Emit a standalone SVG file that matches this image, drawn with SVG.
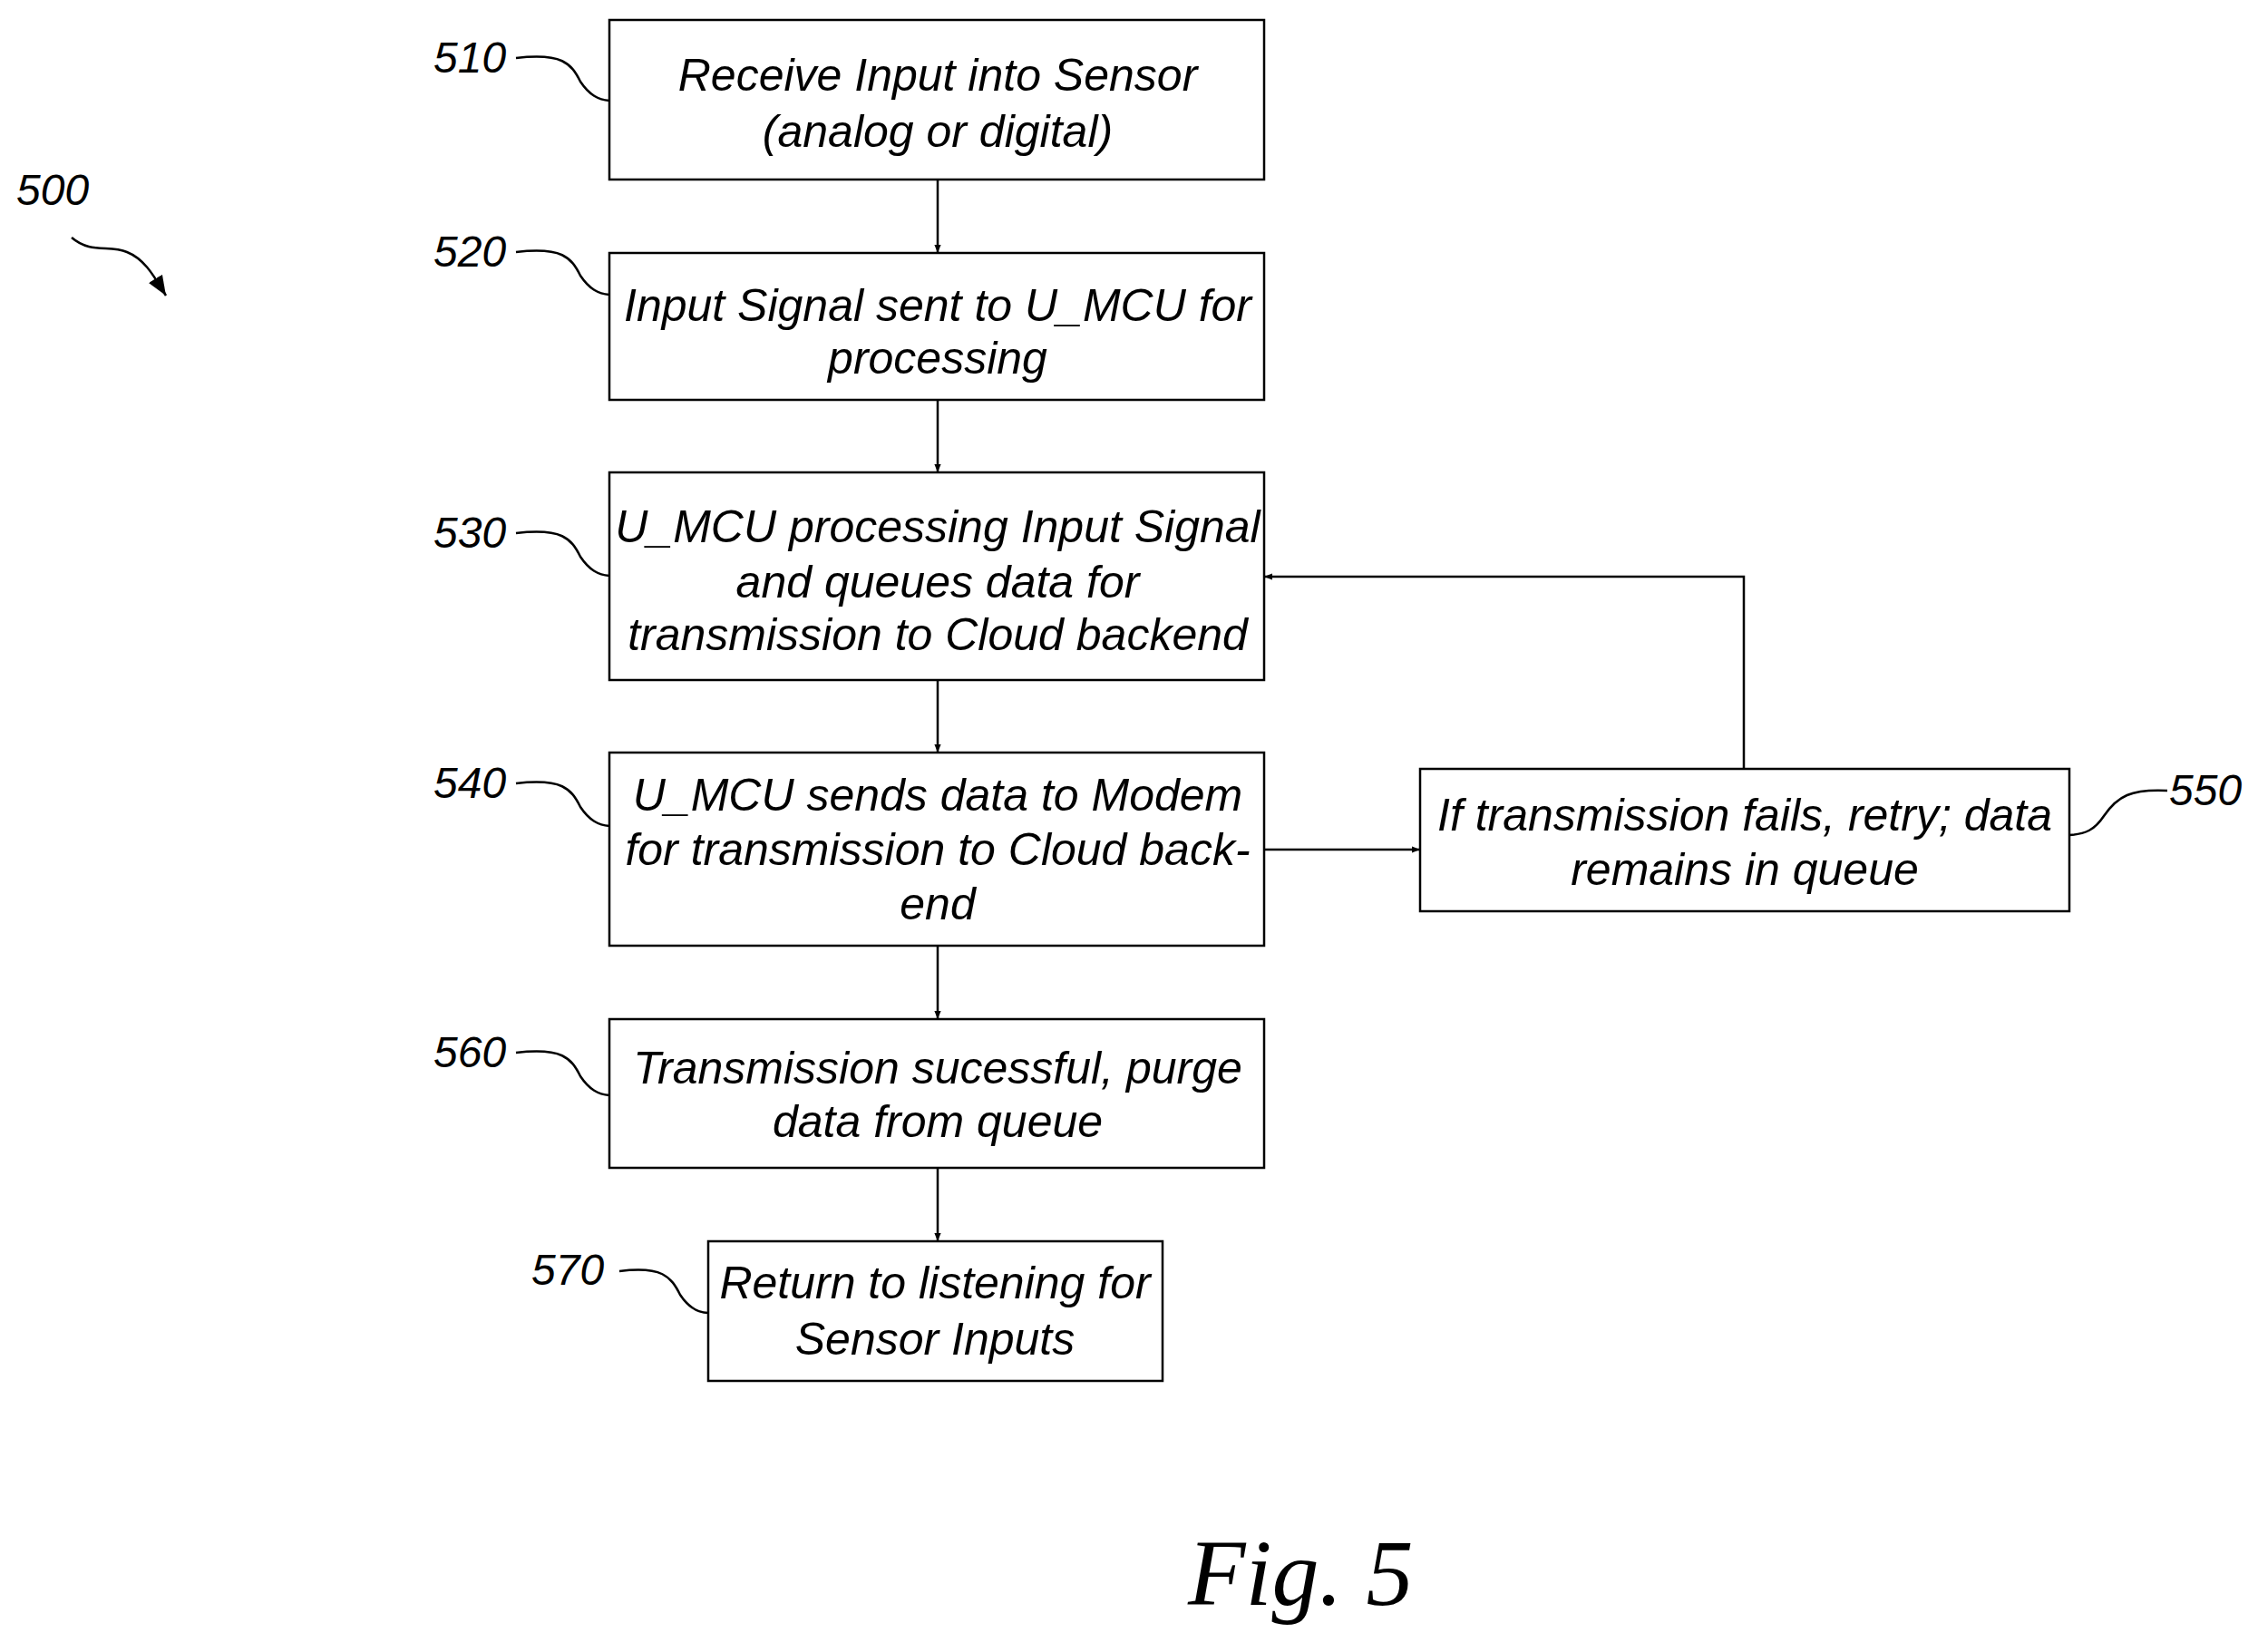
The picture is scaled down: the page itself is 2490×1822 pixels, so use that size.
<svg xmlns="http://www.w3.org/2000/svg" width="2490" height="1822" viewBox="0 0 2490 1822">
<style>
.b{fill:#fff;stroke:#000;stroke-width:2.5}
.t{font-family:"Liberation Sans Narrow","Liberation Sans",sans-serif;font-style:italic;font-size:50px;text-anchor:middle;fill:#000}
.l{font-family:"Liberation Sans Narrow","Liberation Sans",sans-serif;font-style:italic;font-size:48px;fill:#000}
.c{fill:none;stroke:#000;stroke-width:2.5}
</style>
<defs><marker id="a" viewBox="0 0 10 10" refX="10" refY="5" markerWidth="9" markerHeight="9" markerUnits="userSpaceOnUse" orient="auto"><path d="M0,1 L10,5 L0,9 Z" fill="#000"/></marker>
<marker id="ah" viewBox="0 0 10 10" refX="10" refY="5" markerWidth="22" markerHeight="22" markerUnits="userSpaceOnUse" orient="auto"><path d="M0,1 L10,5 L0,9 Z" fill="#000"/></marker></defs>
<rect width="2490" height="1822" fill="#fff"/>
<g id="n510"><rect class="b" x="672" y="22" width="722" height="176"/><text class="t" x="1034" y="100">Receive Input into Sensor</text><text class="t" x="1034" y="162">(analog or digital)</text></g>
<g id="n520"><rect class="b" x="672" y="279" width="722" height="162"/><text class="t" x="1034" y="354">Input Signal sent to U_MCU for</text><text class="t" x="1034" y="412">processing</text></g>
<g id="n530"><rect class="b" x="672" y="521" width="722" height="229"/><text class="t" x="1034" y="598">U_MCU processing Input Signal</text><text class="t" x="1034" y="659">and queues data for</text><text class="t" x="1034" y="717">transmission to Cloud backend</text></g>
<g id="n540"><rect class="b" x="672" y="830" width="722" height="213"/><text class="t" x="1034" y="894">U_MCU sends data to Modem</text><text class="t" x="1034" y="954">for transmission to Cloud back-</text><text class="t" x="1034" y="1014">end</text></g>
<g id="n550"><rect class="b" x="1566" y="848" width="716" height="157"/><text class="t" x="1924" y="916">If transmission fails, retry; data</text><text class="t" x="1924" y="976">remains in queue</text></g>
<g id="n560"><rect class="b" x="672" y="1124" width="722" height="164"/><text class="t" x="1034" y="1195">Transmission sucessful, purge</text><text class="t" x="1034" y="1254">data from queue</text></g>
<g id="n570"><rect class="b" x="781" y="1369" width="501" height="154"/><text class="t" x="1031" y="1432">Return to listening for</text><text class="t" x="1031" y="1494">Sensor Inputs</text></g>
<g id="connectors">
<path class="c" marker-end="url(#a)" d="M1034,198 V279"/>
<path class="c" marker-end="url(#a)" d="M1034,441 V521"/>
<path class="c" marker-end="url(#a)" d="M1034,750 V830"/>
<path class="c" marker-end="url(#a)" d="M1034,1043 V1124"/>
<path class="c" marker-end="url(#a)" d="M1034,1288 V1369"/>
<path class="c" marker-end="url(#a)" d="M1394,937 H1566"/>
<path class="c" marker-end="url(#a)" d="M1923,848 V636 H1394"/>
</g>
<g id="labels">
<text class="l" x="478" y="80">510</text><path class="c" d="M569,64 C620,58 630,70 640,90 C650,105 660,110 672,111"/>
<text class="l" x="478" y="294">520</text><path class="c" d="M569,278 C620,272 630,284 640,304 C650,319 660,324 672,325"/>
<text class="l" x="478" y="604">530</text><path class="c" d="M569,588 C620,582 630,594 640,614 C650,629 660,634 672,635"/>
<text class="l" x="478" y="880">540</text><path class="c" d="M569,864 C620,858 630,870 640,890 C650,905 660,910 672,911"/>
<text class="l" x="478" y="1177">560</text><path class="c" d="M569,1161 C620,1155 630,1167 640,1187 C650,1202 660,1207 672,1208"/>
<text class="l" x="586" y="1417">570</text><path class="c" d="M683,1402 C730,1396 740,1408 750,1428 C760,1443 770,1448 781,1448"/>
<text class="l" x="2392" y="888">550</text><path class="c" d="M2282,921 C2300,920 2310,915 2320,900 C2335,878 2350,870 2390,872"/>
<text class="l" x="18" y="226">500</text><path class="c" marker-end="url(#ah)" d="M79,262 C100,280 120,270 140,278 C160,286 170,305 183,326"/>
<text x="1310" y="1770" font-family="Liberation Serif,serif" font-style="italic" font-size="104">Fig. 5</text>
</g>
</svg>
